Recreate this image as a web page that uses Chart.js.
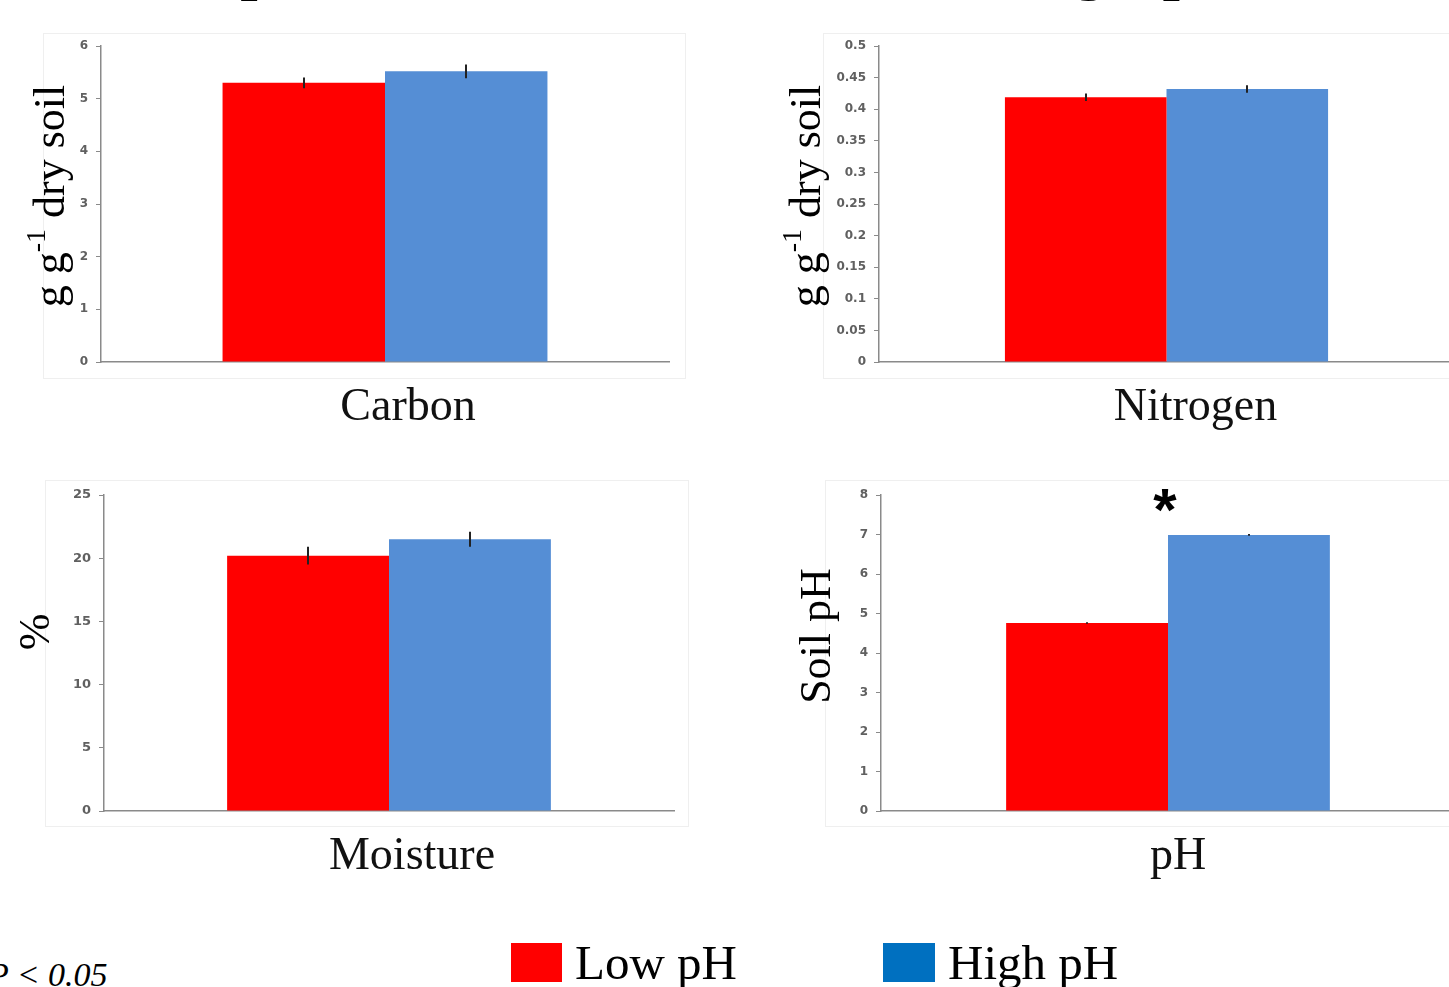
<!DOCTYPE html>
<html>
<head>
<meta charset="utf-8">
<script src="https://cdn.jsdelivr.net/npm/chart.js@4.4.1/dist/chart.umd.min.js"></script>
<style>
  html, body { margin: 0; padding: 0; background: #fff; }
  body { width: 1449px; height: 987px; overflow: hidden; position: relative; }
  canvas { position: absolute; }
  .title { position: absolute; left: 104px; top: -81px; font: 73px 'Liberation Serif', serif; white-space: nowrap; color: #000; }
  .note { position: absolute; left: -12px; top: 956px; font: italic 34px 'Liberation Serif', serif; color: #000; }
  .legend { position: absolute; top: 935px; font: 49px 'Liberation Serif', serif; color: #000; line-height: 56px; }
  .sw { position: absolute; top: 943px; width: 51px; height: 39px; }
</style>
</head>
<body>
<div class="title">Soil parameters under low and high pH</div>
<canvas id="c0" width="720" height="420" style="left:0;top:30px"></canvas>
<canvas id="c1" width="700" height="420" style="left:780px;top:30px"></canvas>
<canvas id="c2" width="720" height="420" style="left:0;top:478px"></canvas>
<canvas id="c3" width="700" height="420" style="left:780px;top:478px"></canvas>
<div class="note">P &lt; 0.05</div>
<div class="sw" style="left:511px;background:#ff0000"></div>
<div class="legend" style="left:575px">Low pH</div>
<div class="sw" style="left:883px;width:52px;background:#0070c0"></div>
<div class="legend" style="left:948px">High pH</div>
<script>
const categories = ['Carbon', 'Nitrogen', 'Moisture', 'pH'];
const seriesNames = ['Low pH', 'High pH'];
const lowPH   = [5.30, 0.419, 20.2, 4.76];
const highPH  = [5.52, 0.432, 21.5, 6.99];
const lowErr  = [0.10, 0.006, 0.7, 0.02];
const highErr = [0.13, 0.006, 0.6, 0.02];
const yMax    = [6, 0.5, 25, 8];
const yStep   = [1, 0.05, 5, 1];
const yTitles = [['g g', '-1', ' dry soil'], ['g g', '-1', ' dry soil'], ['%'], ['Soil pH']];
const signif  = ['', '', '', '*'];

const RED = '#ff0000', BLUE = '#558ed5', AXIS = '#8a8a8a';
const SERIF = "'Liberation Serif', 'Times New Roman', serif";
const SANS = "'Liberation Sans', Arial, sans-serif";

// per-panel layout (canvas coords)
const boxes = [
  { yw: 101, top: 16, right: 51, xh: 88, cat: 0.572, lab: 23, fs: 12, frame: [43, 3, 642, 345], tx: 52, ty: 166 },
  { yw: 99,  top: 16, right: 26, xh: 88, cat: 0.562, lab: 29, fs: 12, frame: [43, 3, 700, 345], tx: 28, ty: 166 },
  { yw: 104, top: 17, right: 46, xh: 87, cat: 0.568, lab: 23, fs: 13, frame: [45, 2, 643, 346], tx: 37, ty: 154 },
  { yw: 101, top: 17, right: 25, xh: 87, cat: 0.564, lab: 10, fs: 12, frame: [45, 2, 700, 346], tx: 38, ty: 158 }
];

const framePlugin = {
  id: 'frame',
  beforeDraw(ch) {
    const f = ch.options.plugins.frame.rect, c = ch.ctx;
    c.save();
    c.strokeStyle = '#efefef'; c.lineWidth = 1;
    c.strokeRect(f[0] + 0.5, f[1] + 0.5, f[2], f[3]);
    c.restore();
  }
};

const errPlugin = {
  id: 'err',
  afterDatasetsDraw(ch) {
    const c = ch.ctx, ys = ch.scales.y;
    c.save();
    c.strokeStyle = '#222'; c.lineWidth = 2;
    ch.data.datasets.forEach((ds, di) => {
      ch.getDatasetMeta(di).data.forEach((bar, j) => {
        const v = ds.data[j], e = ds.err[j];
        c.beginPath();
        c.moveTo(Math.round(bar.x), ys.getPixelForValue(v + e));
        c.lineTo(Math.round(bar.x), ys.getPixelForValue(v - e));
        c.stroke();
      });
    });
    // significance mark over the category
    const o = ch.options.plugins.err;
    if (o.mark) {
      const xs = ch.scales.x;
      const top = Math.max(...ch.data.datasets.map(d => d.data[0] + d.err[0]));
      c.fillStyle = '#000';
      c.font = 'bold 60px ' + SANS;
      c.textAlign = 'center'; c.textBaseline = 'middle';
      c.fillText(o.mark, xs.getPixelForValue(0) - 3, ys.getPixelForValue(top) - 21);
    }
    c.restore();
  }
};

const titlePlugin = {
  id: 'ytitle',
  afterDraw(ch) {
    const o = ch.options.plugins.ytitle, c = ch.ctx;
    const big = '44px ' + SERIF, small = '28px ' + SERIF;
    c.save();
    c.translate(o.x, o.y);
    c.rotate(-Math.PI / 2);
    c.fillStyle = '#000';
    c.textBaseline = 'middle';
    let w = 0;
    o.parts.forEach((p, k) => { c.font = k % 2 ? small : big; w += c.measureText(p).width; });
    let x = -w / 2;
    o.parts.forEach((p, k) => {
      c.font = k % 2 ? small : big;
      c.fillText(p, x, k % 2 ? -14 : 0);
      x += c.measureText(p).width;
    });
    c.restore();
  }
};

function makeChart(i) {
  const b = boxes[i];
  new Chart(document.getElementById('c' + i), {
    type: 'bar',
    data: {
      labels: [categories[i]],
      datasets: [
        { label: seriesNames[0], data: [lowPH[i]], err: [lowErr[i]], backgroundColor: RED },
        { label: seriesNames[1], data: [highPH[i]], err: [highErr[i]], backgroundColor: BLUE }
      ]
    },
    options: {
      responsive: false, animation: false, devicePixelRatio: 1,
      datasets: { bar: { categoryPercentage: b.cat, barPercentage: 1 } },
      layout: { padding: { top: b.top, right: b.right, left: 0, bottom: 0 } },
      plugins: {
        legend: { display: false }, tooltip: { enabled: false },
        frame: { rect: b.frame },
        err: { mark: signif[i] },
        ytitle: { parts: yTitles[i], x: b.tx, y: b.ty }
      },
      scales: {
        x: {
          grid: { drawOnChartArea: false, drawTicks: false },
          border: { color: AXIS, width: 1.5 },
          ticks: { font: { family: SERIF, size: 46 }, color: '#111', padding: 18, labelOffset: b.lab },
          afterFit: s => { s.height = b.xh; }
        },
        y: {
          min: 0, max: yMax[i],
          ticks: {
            stepSize: yStep[i], color: '#606060', padding: 8,
            font: { family: "'DejaVu Sans', sans-serif", size: b.fs, weight: 'bold' },
            callback: v => String(+v.toFixed(2))
          },
          grid: { drawOnChartArea: false, tickLength: 5, color: AXIS },
          border: { color: AXIS, width: 1.5 },
          afterFit: s => { s.width = b.yw; }
        }
      }
    },
    plugins: [framePlugin, errPlugin, titlePlugin]
  });
}

categories.forEach((_, i) => makeChart(i));
</script>
</body>
</html>
